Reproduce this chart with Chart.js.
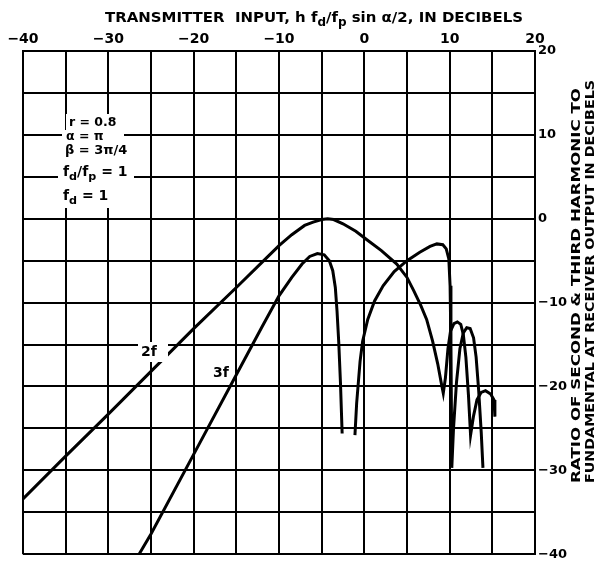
<!DOCTYPE html>
<html><head><meta charset="utf-8">
<script src="https://cdn.jsdelivr.net/npm/chart.js@4/dist/chart.umd.min.js"></script>
<style>html,body{margin:0;padding:0;background:#fff;}#wrap{width:599px;height:565px;position:relative;}</style>
</head><body><div id="wrap"><canvas id="c" width="599" height="565"></canvas></div>
<script>
// ---- data ----
const xTickLabels = [-40, -30, -20, -10, 0, 10, 20];
const yTickLabels = [-40, -30, -20, -10, 0, 10, 20];
const series2fX = [-40, -35, -30, -25, -20, -15, -12, -10, -8.5, -7, -6, -5, -4.3, -3.6, -2.5, -1, 0.3, 2, 3.8, 5, 5.8, 6.6, 7.3, 8.0, 8.6, 9.0, 9.25, 9.5, 9.8, 10.1, 10.5, 10.9, 11.3, 11.6, 11.9, 12.2, 12.45, 12.8, 13.2, 13.7, 14.2, 14.8, 15.2, 15.3];
const series2fY = [-33.4, -28.3, -23.3, -18.2, -13.1, -8.2, -5.2, -3.2, -1.9, -0.8, -0.4, -0.1, 0, -0.1, -0.6, -1.5, -2.5, -3.8, -5.4, -7.0, -8.6, -10.3, -12.0, -14.6, -17.3, -19.5, -20.8, -19.0, -15.5, -13.4, -12.5, -12.3, -12.6, -13.8, -16.5, -21, -25.8, -23.5, -21.6, -20.7, -20.5, -20.9, -21.6, -23.6];
const series3fX = [-26.4, -25, -20, -15, -12, -10, -8.5, -7.3, -6.4, -5.5, -4.7, -4.1, -3.7, -3.4, -3.2, -3.0, -2.8, -2.6, null, -1.1, -0.9, -0.5, -0.2, 0.4, 1.2, 2.2, 3.5, 5, 6.5, 7.7, 8.5, 9.2, 9.6, 9.9, 10.05, 10.15, 10.25, 10.45, 10.8, 11.2, 11.6, 12.0, 12.4, 12.8, 13.1, 13.4, 13.7, 13.9];
const series3fY = [-40, -37.6, -28.1, -18.6, -12.9, -9.2, -7.0, -5.4, -4.5, -4.15, -4.3, -5.0, -6.2, -8.2, -11, -14.7, -19.5, -25.6, null, -25.8, -22, -17.0, -14.6, -12.0, -9.8, -8.0, -6.3, -5.0, -4.0, -3.3, -3.0, -3.1, -3.6, -4.8, -8, -15, -29.7, -25, -19.5, -15.5, -13.6, -13.0, -13.1, -14.2, -16.5, -20.5, -25.5, -29.7];
const seriesNames = ['2f', '3f'];
const annotationLines = ['r = 0.8', 'α = π', 'β = 3π/4', 'f_d/f_p = 1', 'f_d = 1'];
const topTitle = 'TRANSMITTER  INPUT, h f_d/f_p sin α/2, IN DECIBELS';
const rightTitle = ['RATIO OF SECOND & THIRD HARMONIC TO', 'FUNDAMENTAL AT RECEIVER OUTPUT IN DECIBELS'];

const toPts = (xs, ys) => xs.map((x, i) => (x === null ? {x: null, y: null} : {x: x, y: ys[i]}));
const fmt = v => (v < 0 ? '\u2212' + Math.abs(v) : String(v));
const FONT = '"DejaVu Sans", sans-serif';

// draw text with "_x" subscripts
function drawRich(ctx, str, x, y, size, measureOnly) {
  const parts = [];
  let i = 0;
  while (i < str.length) {
    if (str[i] === '_') { parts.push({t: str[i + 1], sub: true}); i += 2; }
    else { let j = i; while (j < str.length && str[j] !== '_') j++; parts.push({t: str.slice(i, j), sub: false}); i = j; }
  }
  let cx = x;
  for (const p of parts) {
    const s = p.sub ? size * 0.8 : size;
    ctx.font = 'bold ' + s + 'px ' + FONT;
    if (!measureOnly) ctx.fillText(p.t, cx, p.sub ? y + size * 0.35 : y);
    cx += ctx.measureText(p.t).width;
  }
  return cx - x;
}

const textPlugin = {
  id: 'texts',
  afterDraw(chart) {
    const ctx = chart.ctx;
    ctx.save();
    ctx.fillStyle = '#000';
    ctx.textBaseline = 'middle';
    ctx.textAlign = 'left';
    // top title, fitted to span 105..523
    const w = drawRich(ctx, topTitle, 0, 0, 14.5, true);
    ctx.save();
    ctx.translate(105, 18);
    ctx.scale(418 / w, 1);
    drawRich(ctx, topTitle, 0, 0, 14.5, false);
    ctx.restore();
    // right axis title, two rotated lines
    ctx.save();
    ctx.translate(577, 483);
    ctx.rotate(-Math.PI / 2);
    ctx.font = 'bold 13px ' + FONT;
    let w1 = ctx.measureText(rightTitle[0]).width;
    ctx.save(); ctx.scale(395 / w1, 1); ctx.fillText(rightTitle[0], 0, 0); ctx.restore();
    ctx.translate(0, 14);
    let w2 = ctx.measureText(rightTitle[1]).width;
    ctx.save(); ctx.scale(403 / w2, 1); ctx.fillText(rightTitle[1], 0, 0); ctx.restore();
    ctx.restore();
    // annotation block with white backing
    const rows = [[69, 123, 12.5], [66, 137, 12.5], [65, 151, 13], [63, 172, 14], [63, 196, 14]];
    const boxes = [[66, 114, 58, 16], [62, 130, 62, 14], [61, 143, 74, 18], [58, 160, 76, 24], [60, 184, 52, 24]];
    ctx.fillStyle = '#fff';
    boxes.forEach(b => ctx.fillRect(b[0], b[1], b[2], b[3]));
    ctx.fillStyle = '#000';
    annotationLines.forEach((t, k) => drawRich(ctx, t, rows[k][0], rows[k][1], rows[k][2], false));
    // series labels
    ctx.fillStyle = '#fff';
    ctx.fillRect(138, 342, 30, 20);
    ctx.fillStyle = '#000';
    ctx.font = 'bold 14px ' + FONT;
    ctx.fillText(seriesNames[0], 141, 352);
    ctx.fillText(seriesNames[1], 213, 373);
    ctx.restore();
  }
};

const gridOpts = {color: '#000', lineWidth: 2, drawTicks: false};
new Chart(document.getElementById('c'), {
  type: 'scatter',
  data: {
    datasets: [
      {label: seriesNames[0], data: toPts(series2fX, series2fY), showLine: true, borderColor: '#000', borderWidth: 3, pointRadius: 0, tension: 0, spanGaps: false},
      {label: seriesNames[1], data: toPts(series3fX, series3fY), showLine: true, borderColor: '#000', borderWidth: 3, pointRadius: 0, tension: 0, spanGaps: false}
    ]
  },
  options: {
    responsive: false,
    animation: false,
    devicePixelRatio: 1,
    layout: {padding: {left: 23, top: 0, right: 0, bottom: 2}},
    plugins: {legend: {display: false}, tooltip: {enabled: false}},
    scales: {
      x: {
        type: 'linear', position: 'top', min: -40, max: 20,
        grid: gridOpts,
        border: {color: '#000', width: 2},
        ticks: {stepSize: 5, autoSkip: false, maxRotation: 0, padding: 3, color: '#000',
          font: {family: FONT, size: 14, weight: 'bold'},
          callback: v => (xTickLabels.includes(v) ? fmt(v) : '')},
        afterFit: s => { s.height = 51; }
      },
      y: {
        type: 'linear', position: 'right', min: -40, max: 20,
        grid: gridOpts,
        border: {color: '#000', width: 2},
        ticks: {stepSize: 5, autoSkip: false, padding: 3, color: '#000',
          font: {family: FONT, size: 13, weight: 'bold'},
          callback: v => (yTickLabels.includes(v) ? fmt(v) : '')},
        afterFit: s => { s.width = 64; }
      }
    }
  },
  plugins: [textPlugin]
});
</script></body></html>
